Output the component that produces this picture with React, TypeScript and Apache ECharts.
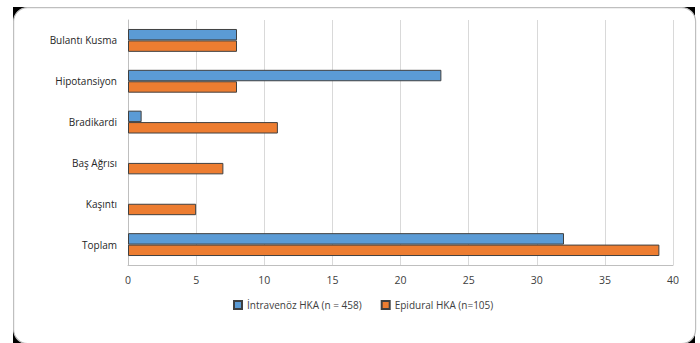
import React, { useEffect, useRef } from "react";
import * as echarts from "echarts";

const categories = ["Bulantı Kusma", "Hipotansiyon", "Bradikardi", "Baş Ağrısı", "Kaşıntı", "Toplam"];
const intravenozValues = [8, 23, 1, 0, 0, 32];
const epiduralValues = [8, 8, 11, 7, 5, 39];
const seriesNames = ["İntravenöz HKA (n = 458)", "Epidural HKA (n=105)"];

const toItems = (vals: number[]) =>
  vals.map((v) => (v === 0 ? { value: v, itemStyle: { borderWidth: 0 } } : v));

export default function App() {
  const ref = useRef<HTMLDivElement>(null);
  useEffect(() => {
    const chart = echarts.init(ref.current!, null, { renderer: "svg" });
    const font = "Open Sans";
    chart.setOption({
      animation: false,
      backgroundColor: "#ffffff",
      textStyle: { fontFamily: font },
      graphic: [
        { type: "rect", left: 13, top: 7, shape: { width: 14, height: 14 }, style: { fill: "#000" }, z: -10 },
        { type: "rect", left: 681, top: 7, shape: { width: 14, height: 14 }, style: { fill: "#000" }, z: -10 },
        { type: "rect", left: 13, top: 329, shape: { width: 14, height: 14 }, style: { fill: "#000" }, z: -10 },
        { type: "rect", left: 681, top: 329, shape: { width: 14, height: 14 }, style: { fill: "#000" }, z: -10 },
        {
          type: "rect",
          left: 13,
          top: 7,
          shape: { width: 682, height: 336, r: 14 },
          style: { fill: "#ffffff", stroke: "#bfbfbf", lineWidth: 1.2 },
          z: -9,
        },
      ],
      grid: { left: 128, right: 27, top: 20, bottom: 78, containLabel: false },
      legend: {
        data: seriesNames,
        left: 228,
        top: 295,
        itemWidth: 8,
        itemHeight: 8,
        itemGap: 19,
        icon: "rect",
        textStyle: { color: "#404040", fontSize: 10, fontFamily: font },
      },
      xAxis: {
        type: "value",
        min: 0,
        max: 40,
        interval: 5,
        axisLine: { show: true, lineStyle: { color: "#bfbfbf" } },
        axisTick: { show: false },
        splitLine: { show: true, lineStyle: { color: "#d9d9d9" } },
        axisLabel: { color: "#404040", fontSize: 10.5, margin: 9, fontFamily: font },
      },
      yAxis: {
        type: "category",
        data: categories,
        inverse: true,
        axisLine: { show: true, lineStyle: { color: "#bfbfbf" } },
        axisTick: { show: false },
        axisLabel: { color: "#262626", fontSize: 10, margin: 11, fontFamily: font },
      },
      series: [
        {
          name: seriesNames[0],
          type: "bar",
          data: toItems(intravenozValues),
          barGap: "0%",
          barCategoryGap: "44%",
          itemStyle: { color: "#5b9bd5", borderColor: "#404040", borderWidth: 1 },
        },
        {
          name: seriesNames[1],
          type: "bar",
          data: toItems(epiduralValues),
          barGap: "0%",
          barCategoryGap: "44%",
          itemStyle: { color: "#ed7d31", borderColor: "#404040", borderWidth: 1 },
        },
      ],
    });
    return () => chart.dispose();
  }, []);
  return <div ref={ref} style={{ width: 700, height: 343, position: "absolute", left: 0, top: 0 }} />;
}
